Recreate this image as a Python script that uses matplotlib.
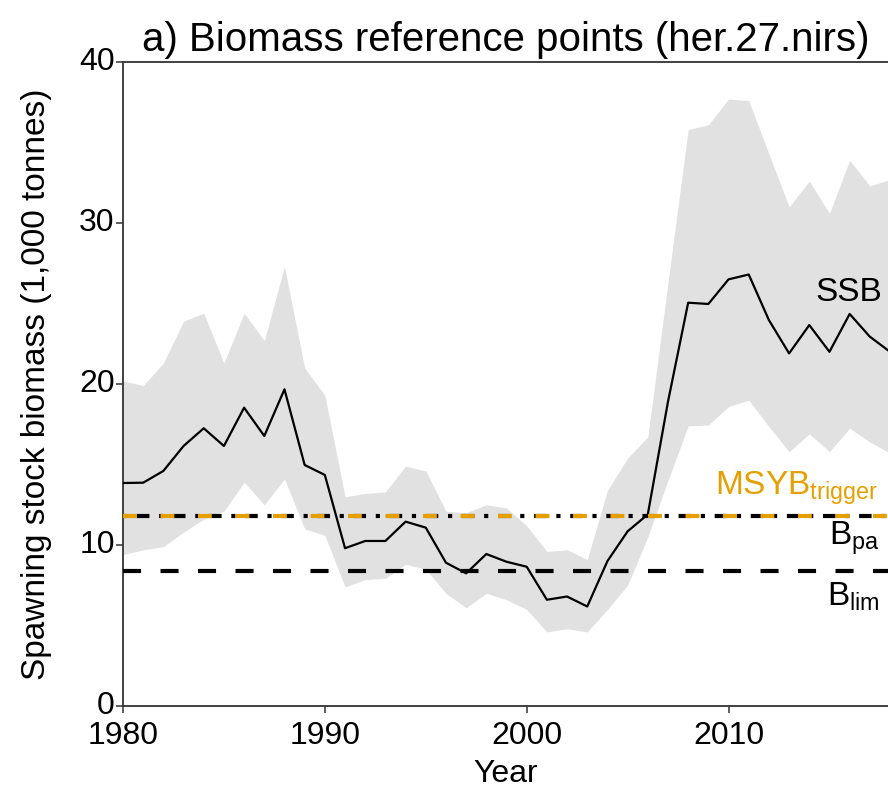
import matplotlib
matplotlib.use("Agg")
import matplotlib.pyplot as plt
import numpy as np

plt.rcParams['font.family'] = ['Liberation Sans', 'DejaVu Sans']
plt.rcParams['mathtext.fontset'] = 'custom'
plt.rcParams['mathtext.rm'] = 'Liberation Sans'
plt.rcParams['mathtext.it'] = 'Liberation Sans:italic'
plt.rcParams['lines.scale_dashes'] = False

years = list(range(1980, 2019))
ssb = [13.85, 13.87, 14.6, 16.15, 17.25, 16.15, 18.53, 16.77, 19.67, 14.97,
       14.35, 9.8, 10.25, 10.25, 11.45, 11.08, 8.9, 8.24, 9.44, 8.96,
       8.65, 6.6, 6.8, 6.18, 9.0, 10.85, 11.9, 18.9, 25.05, 24.97,
       26.5, 26.8, 23.97, 21.9, 23.66, 22.0, 24.35, 22.94, 22.0]
ssb_high = [20.2, 19.9, 21.3, 23.9, 24.4, 21.3, 24.4, 22.7, 27.3, 21.0,
            19.3, 13.0, 13.2, 13.3, 14.9, 14.6, 12.1, 12.0, 12.5, 12.3,
            11.2, 9.6, 9.7, 9.1, 13.4, 15.4, 16.7, 26.3, 35.8, 36.1,
            37.7, 37.6, 34.3, 31.0, 32.6, 30.6, 33.9, 32.3, 32.7]
ssb_low = [9.4, 9.7, 9.9, 10.8, 11.6, 12.1, 13.9, 12.5, 14.1, 11.0,
           10.6, 7.4, 7.85, 7.93, 8.8, 8.5, 7.0, 6.1, 7.0, 6.6,
           6.0, 4.6, 4.8, 4.6, 6.0, 7.5, 10.5, 14.0, 17.4, 17.45,
           18.6, 19.0, 17.35, 15.8, 16.9, 15.8, 17.25, 16.4, 15.7]

blim = 8.4
bpa = 11.8
msy_btrigger = 11.8

orange = '#E69F00'

fig = plt.figure(figsize=(8.88, 7.92), dpi=100)
ax = fig.add_axes([123/888, 1 - 706/792, 1 - 123/888, (706 - 62)/792])

ax.fill_between(years, ssb_low, ssb_high, color='#e1e1e1', linewidth=0, zorder=1)
ax.plot(years, ssb, color='black', lw=1.6, zorder=3)

ax.axhline(blim, color='black', lw=3.0, dashes=(13, 14), zorder=4)
ax.axhline(bpa, color='black', lw=3.0, dashes=(3, 7, 9, 7), zorder=4)
ax.axhline(msy_btrigger, color=orange, lw=3.0, dashes=(10, 17), zorder=5)

fs_lab = 24
ax.text(2017.6, 25.7, 'SSB', ha='right', va='center', fontsize=fs_lab, color='black')
ax.text(2017.4, 13.5, r'MSYB$_{\mathrm{trigger}}$', ha='right', va='center', fontsize=fs_lab, color=orange)
ax.text(2017.5, 10.4, r'B$_{\mathrm{pa}}$', ha='right', va='center', fontsize=fs_lab, color='black')
ax.text(2017.5, 6.8, r'B$_{\mathrm{lim}}$', ha='right', va='center', fontsize=fs_lab, color='black')

ax.set_xlim(1980, 2017.9)
ax.set_ylim(0, 40)
ax.set_xticks([1980, 1990, 2000, 2010])
ax.set_yticks([0, 10, 20, 30, 40])
ax.tick_params(axis='both', labelsize=23, length=5, width=1.1, color='#333333')
ax.tick_params(axis='y', pad=1)
ax.tick_params(axis='x', pad=6)
for lbl in ax.get_yticklabels():
    lbl.set_verticalalignment('center')
for s in ['left', 'top', 'bottom', 'right']:
    ax.spines[s].set_color('#333333')
    ax.spines[s].set_linewidth(1.3)
ax.spines['right'].set_visible(False)

ax.set_xlabel('Year', fontsize=23)
ax.xaxis.set_label_coords(0.5, -0.082)
ax.set_ylabel('Spawning stock biomass (1,000 tonnes)', fontsize=24)
ax.yaxis.set_label_coords(-0.093, 0.5)
ax.set_title('a) Biomass reference points (her.27.nirs)', fontsize=29, pad=8)

fig.savefig('out.png', dpi=100)
